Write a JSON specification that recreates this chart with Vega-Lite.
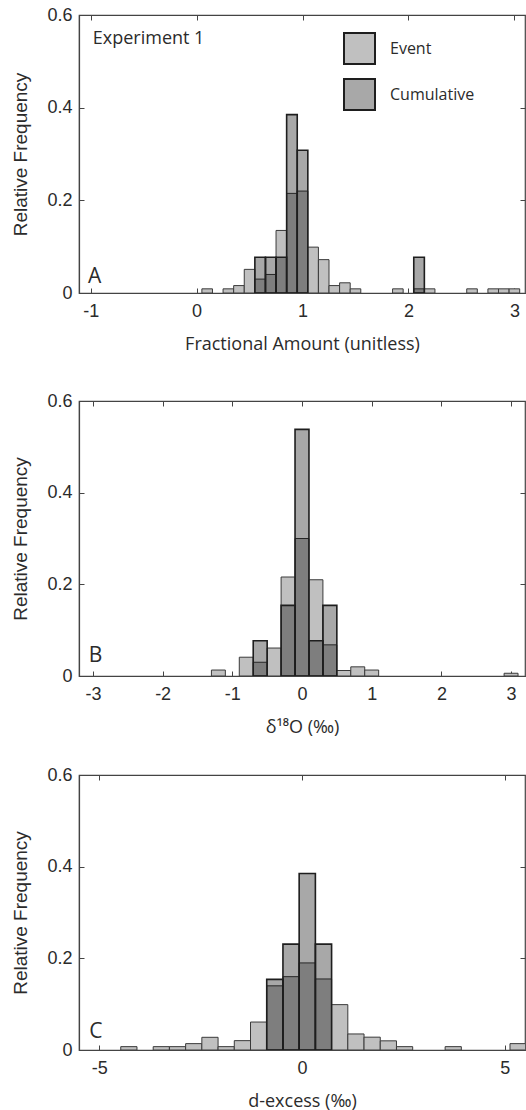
{
  "$schema": "https://vega.github.io/schema/vega-lite/v6.json",
  "padding": {"left": 11, "top": 5, "right": 0, "bottom": 0},
  "background": "white",
  "config": {
    "view": {"stroke": "#444", "strokeWidth": 1.2},
    "axis": {"labelFont": "Liberation Sans", "labelFontSize": 18, "labelColor": "#2b2b2b", "domainColor": "#444", "domainWidth": 1.2, "tickColor": "#444", "tickWidth": 1, "grid": false, "titleColor": "#2b2b2b", "titleFontWeight": "normal", "labelOverlap": false, "labelExpr": "'' + datum.value"},
    "axisX": {"titleFont": "Open Sans", "titleFontSize": 18, "labelFlush": false, "tickSize": -5, "labelPadding": 14, "titlePadding": 15},
    "axisY": {"titleFont": "Liberation Sans", "titleFontSize": 19, "tickSize": -5, "labelPadding": 12, "titlePadding": 16},
    "text": {"color": "#2b2b2b"}
  },
  "datasets": {
    "A": [
      {"series": "Event", "lo": 0.05, "hi": 0.15, "freq": 0.009},
      {"series": "Event", "lo": 0.25, "hi": 0.35, "freq": 0.009},
      {"series": "Event", "lo": 0.35, "hi": 0.45, "freq": 0.016},
      {"series": "Event", "lo": 0.45, "hi": 0.55, "freq": 0.051},
      {"series": "Event", "lo": 0.55, "hi": 0.65, "freq": 0.03},
      {"series": "Event", "lo": 0.65, "hi": 0.75, "freq": 0.04},
      {"series": "Event", "lo": 0.75, "hi": 0.85, "freq": 0.135},
      {"series": "Event", "lo": 0.85, "hi": 0.95, "freq": 0.215},
      {"series": "Event", "lo": 0.95, "hi": 1.05, "freq": 0.22},
      {"series": "Event", "lo": 1.05, "hi": 1.15, "freq": 0.099},
      {"series": "Event", "lo": 1.15, "hi": 1.25, "freq": 0.072},
      {"series": "Event", "lo": 1.25, "hi": 1.35, "freq": 0.016},
      {"series": "Event", "lo": 1.35, "hi": 1.45, "freq": 0.022},
      {"series": "Event", "lo": 1.45, "hi": 1.55, "freq": 0.009},
      {"series": "Event", "lo": 1.85, "hi": 1.95, "freq": 0.009},
      {"series": "Event", "lo": 2.05, "hi": 2.15, "freq": 0.009},
      {"series": "Event", "lo": 2.15, "hi": 2.25, "freq": 0.009},
      {"series": "Event", "lo": 2.55, "hi": 2.65, "freq": 0.009},
      {"series": "Event", "lo": 2.75, "hi": 2.85, "freq": 0.009},
      {"series": "Event", "lo": 2.85, "hi": 2.95, "freq": 0.009},
      {"series": "Event", "lo": 2.95, "hi": 3.05, "freq": 0.009},
      {"series": "Cumulative", "lo": 0.55, "hi": 0.65, "freq": 0.077},
      {"series": "Cumulative", "lo": 0.65, "hi": 0.75, "freq": 0.077},
      {"series": "Cumulative", "lo": 0.75, "hi": 0.85, "freq": 0.077},
      {"series": "Cumulative", "lo": 0.85, "hi": 0.95, "freq": 0.385},
      {"series": "Cumulative", "lo": 0.95, "hi": 1.05, "freq": 0.308},
      {"series": "Cumulative", "lo": 2.05, "hi": 2.15, "freq": 0.077}
    ],
    "B": [
      {"series": "Event", "lo": -1.3, "hi": -1.1, "freq": 0.013},
      {"series": "Event", "lo": -0.9, "hi": -0.7, "freq": 0.041},
      {"series": "Event", "lo": -0.7, "hi": -0.5, "freq": 0.03},
      {"series": "Event", "lo": -0.5, "hi": -0.3, "freq": 0.061},
      {"series": "Event", "lo": -0.3, "hi": -0.1, "freq": 0.216},
      {"series": "Event", "lo": -0.1, "hi": 0.1, "freq": 0.3},
      {"series": "Event", "lo": 0.1, "hi": 0.3, "freq": 0.21},
      {"series": "Event", "lo": 0.3, "hi": 0.5, "freq": 0.068},
      {"series": "Event", "lo": 0.5, "hi": 0.7, "freq": 0.012},
      {"series": "Event", "lo": 0.7, "hi": 0.9, "freq": 0.02},
      {"series": "Event", "lo": 0.9, "hi": 1.1, "freq": 0.013},
      {"series": "Event", "lo": 2.9, "hi": 3.1, "freq": 0.006},
      {"series": "Cumulative", "lo": -0.7, "hi": -0.5, "freq": 0.077},
      {"series": "Cumulative", "lo": -0.3, "hi": -0.1, "freq": 0.154},
      {"series": "Cumulative", "lo": -0.1, "hi": 0.1, "freq": 0.538},
      {"series": "Cumulative", "lo": 0.1, "hi": 0.3, "freq": 0.077},
      {"series": "Cumulative", "lo": 0.3, "hi": 0.5, "freq": 0.154}
    ],
    "C": [
      {"series": "Event", "lo": -4.47, "hi": -4.07, "freq": 0.0073},
      {"series": "Event", "lo": -3.67, "hi": -3.27, "freq": 0.0073},
      {"series": "Event", "lo": -3.27, "hi": -2.87, "freq": 0.0073},
      {"series": "Event", "lo": -2.87, "hi": -2.47, "freq": 0.0139},
      {"series": "Event", "lo": -2.47, "hi": -2.07, "freq": 0.0277},
      {"series": "Event", "lo": -2.07, "hi": -1.67, "freq": 0.0073},
      {"series": "Event", "lo": -1.67, "hi": -1.27, "freq": 0.0204},
      {"series": "Event", "lo": -1.27, "hi": -0.87, "freq": 0.061},
      {"series": "Event", "lo": -0.87, "hi": -0.47, "freq": 0.14},
      {"series": "Event", "lo": -0.47, "hi": -0.07, "freq": 0.16},
      {"series": "Event", "lo": -0.07, "hi": 0.33, "freq": 0.19},
      {"series": "Event", "lo": 0.33, "hi": 0.73, "freq": 0.155},
      {"series": "Event", "lo": 0.73, "hi": 1.13, "freq": 0.099},
      {"series": "Event", "lo": 1.13, "hi": 1.53, "freq": 0.035},
      {"series": "Event", "lo": 1.53, "hi": 1.93, "freq": 0.028},
      {"series": "Event", "lo": 1.93, "hi": 2.33, "freq": 0.02},
      {"series": "Event", "lo": 2.33, "hi": 2.73, "freq": 0.0073},
      {"series": "Event", "lo": 3.53, "hi": 3.93, "freq": 0.0073},
      {"series": "Event", "lo": 5.13, "hi": 5.53, "freq": 0.0139},
      {"series": "Cumulative", "lo": -0.87, "hi": -0.47, "freq": 0.154},
      {"series": "Cumulative", "lo": -0.47, "hi": -0.07, "freq": 0.231},
      {"series": "Cumulative", "lo": -0.07, "hi": 0.33, "freq": 0.385},
      {"series": "Cumulative", "lo": 0.33, "hi": 0.73, "freq": 0.231}
    ]
  },
  "spacing": 37,
  "resolve": {"scale": {"x": "independent", "y": "independent", "fill": "independent"}},
  "vconcat": [
    {
      "width": 446, "height": 278,
      "data": {"name": "A"},
      "resolve": {"axis": {"x": "independent", "y": "independent"}},
      "layer": [
        {
          "transform": [{"filter": "datum.series == 'Event'"}],
          "mark": {"type": "bar", "stroke": "#3a3a3a", "strokeWidth": 1, "clip": true},
          "encoding": {
            "x": {"field": "lo", "type": "quantitative", "scale": {"domain": [-1.11, 3.1], "nice": false, "zero": false}, "axis": {"orient": "bottom", "values": [-1, 0, 1, 2, 3], "title": "Fractional Amount (unitless)"}},
            "x2": {"field": "hi"},
            "y": {"field": "freq", "type": "quantitative", "scale": {"domain": [0, 0.6], "nice": false}, "axis": {"orient": "left", "values": [0, 0.2, 0.4, 0.6], "title": "Relative Frequency"}},
            "y2": {"datum": 0},
            "fill": {"field": "series", "type": "nominal", "scale": {"domain": ["Event", "Cumulative"], "range": ["#c0c0c0", "rgba(0,0,0,0.34)"]},
              "legend": {"orient": "none", "legendX": 264, "legendY": 17, "title": null, "padding": 0, "symbolType": "square", "symbolSize": 961, "symbolStrokeColor": "#222", "symbolStrokeWidth": 2, "symbolOpacity": 1, "labelFont": "Open Sans", "labelFontSize": 16, "labelColor": "#2b2b2b", "labelOffset": 14, "rowPadding": 7}}
          }
        },
        {
          "transform": [{"filter": "datum.series == 'Cumulative'"}],
          "mark": {"type": "bar", "stroke": "#1e1e1e", "strokeWidth": 1.6, "clip": true},
          "encoding": {
            "x": {"field": "lo", "type": "quantitative", "axis": {"orient": "top", "values": [-1, 0, 1, 2, 3], "labels": false, "title": null, "domain": false}},
            "x2": {"field": "hi"},
            "y": {"field": "freq", "type": "quantitative", "axis": {"orient": "right", "values": [0, 0.2, 0.4, 0.6], "labels": false, "title": null, "domain": false}},
            "y2": {"datum": 0},
            "fill": {"field": "series", "type": "nominal"}
          }
        },
        {
          "data": {"values": [{}]},
          "mark": {"type": "text", "text": "Experiment 1", "font": "Open Sans", "fontSize": 18, "align": "left", "baseline": "middle"},
          "encoding": {"x": {"datum": -0.98, "type": "quantitative", "axis": null}, "y": {"datum": 0.549, "type": "quantitative", "axis": null}}
        },
        {
          "data": {"values": [{}]},
          "mark": {"type": "text", "text": "A", "font": "Open Sans", "fontSize": 21, "align": "left", "baseline": "alphabetic"},
          "encoding": {"x": {"datum": -1.025, "type": "quantitative", "axis": null}, "y": {"datum": 0.021, "type": "quantitative", "axis": null}}
        }
      ]
    },
    {
      "spacing": 28,
      "resolve": {"scale": {"x": "independent", "y": "independent", "fill": "independent"}},
      "vconcat": [
        {
          "width": 446, "height": 275,
          "data": {"name": "B"},
          "resolve": {"axis": {"x": "independent", "y": "independent"}},
          "layer": [
            {
              "transform": [{"filter": "datum.series == 'Event'"}],
              "mark": {"type": "bar", "stroke": "#3a3a3a", "strokeWidth": 1, "clip": true},
              "encoding": {
                "x": {"field": "lo", "type": "quantitative", "scale": {"domain": [-3.2, 3.2], "nice": false, "zero": false}, "axis": {"orient": "bottom", "values": [-3, -2, -1, 0, 1, 2, 3], "title": "δ¹⁸O (‰)"}},
                "x2": {"field": "hi"},
                "y": {"field": "freq", "type": "quantitative", "scale": {"domain": [0, 0.6], "nice": false}, "axis": {"orient": "left", "values": [0, 0.2, 0.4, 0.6], "title": "Relative Frequency"}},
                "y2": {"datum": 0},
                "fill": {"field": "series", "type": "nominal", "scale": {"domain": ["Event", "Cumulative"], "range": ["#c0c0c0", "rgba(0,0,0,0.34)"]}, "legend": null}
              }
            },
            {
              "transform": [{"filter": "datum.series == 'Cumulative'"}],
              "mark": {"type": "bar", "stroke": "#1e1e1e", "strokeWidth": 1.6, "clip": true},
              "encoding": {
                "x": {"field": "lo", "type": "quantitative", "axis": {"orient": "top", "values": [-3, -2, -1, 0, 1, 2, 3], "labels": false, "title": null, "domain": false}},
                "x2": {"field": "hi"},
                "y": {"field": "freq", "type": "quantitative", "axis": {"orient": "right", "values": [0, 0.2, 0.4, 0.6], "labels": false, "title": null, "domain": false}},
                "y2": {"datum": 0},
                "fill": {"field": "series", "type": "nominal", "legend": null}
              }
            },
            {
              "data": {"values": [{}]},
              "mark": {"type": "text", "text": "B", "font": "Open Sans", "fontSize": 21, "align": "left", "baseline": "alphabetic"},
              "encoding": {"x": {"datum": -3.06, "type": "quantitative", "axis": null}, "y": {"datum": 0.031, "type": "quantitative", "axis": null}}
            }
          ]
        },
        {
          "width": 446, "height": 275,
          "data": {"name": "C"},
          "resolve": {"axis": {"x": "independent", "y": "independent"}},
          "layer": [
            {
              "transform": [{"filter": "datum.series == 'Event'"}],
              "mark": {"type": "bar", "stroke": "#3a3a3a", "strokeWidth": 1, "clip": true},
              "encoding": {
                "x": {"field": "lo", "type": "quantitative", "scale": {"domain": [-5.5, 5.5], "nice": false, "zero": false}, "axis": {"orient": "bottom", "values": [-5, 0, 5], "title": "d-excess (‰)"}},
                "x2": {"field": "hi"},
                "y": {"field": "freq", "type": "quantitative", "scale": {"domain": [0, 0.6], "nice": false}, "axis": {"orient": "left", "values": [0, 0.2, 0.4, 0.6], "title": "Relative Frequency"}},
                "y2": {"datum": 0},
                "fill": {"field": "series", "type": "nominal", "scale": {"domain": ["Event", "Cumulative"], "range": ["#c0c0c0", "rgba(0,0,0,0.34)"]}, "legend": null}
              }
            },
            {
              "transform": [{"filter": "datum.series == 'Cumulative'"}],
              "mark": {"type": "bar", "stroke": "#1e1e1e", "strokeWidth": 1.6, "clip": true},
              "encoding": {
                "x": {"field": "lo", "type": "quantitative", "axis": {"orient": "top", "values": [-5, 0, 5], "labels": false, "title": null, "domain": false}},
                "x2": {"field": "hi"},
                "y": {"field": "freq", "type": "quantitative", "axis": {"orient": "right", "values": [0, 0.2, 0.4, 0.6], "labels": false, "title": null, "domain": false}},
                "y2": {"datum": 0},
                "fill": {"field": "series", "type": "nominal", "legend": null}
              }
            },
            {
              "data": {"values": [{}]},
              "mark": {"type": "text", "text": "C", "font": "Open Sans", "fontSize": 21, "align": "left", "baseline": "alphabetic"},
              "encoding": {"x": {"datum": -5.25, "type": "quantitative", "axis": null}, "y": {"datum": 0.0255, "type": "quantitative", "axis": null}}
            }
          ]
        }
      ]
    }
  ]
}
